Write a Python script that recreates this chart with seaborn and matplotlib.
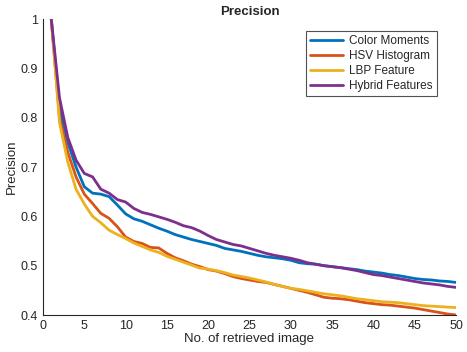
import numpy as np
import pandas as pd
import seaborn as sns
import matplotlib.pyplot as plt

# precision at k for each feature type, k = 1..50
k = list(range(1, 51))

color_moments = [1.0, 0.82, 0.75, 0.70, 0.66, 0.647, 0.645, 0.640, 0.623, 0.605,
                 0.595, 0.590, 0.583, 0.576, 0.570, 0.563, 0.558, 0.553, 0.549, 0.545,
                 0.541, 0.535, 0.532, 0.529, 0.525, 0.521, 0.518, 0.516, 0.514, 0.511,
                 0.506, 0.504, 0.503, 0.500, 0.498, 0.496, 0.494, 0.492, 0.489, 0.487,
                 0.485, 0.482, 0.480, 0.477, 0.474, 0.472, 0.471, 0.469, 0.468, 0.466]

hsv_histogram = [1.0, 0.80, 0.73, 0.68, 0.645, 0.626, 0.606, 0.596, 0.579, 0.558,
                 0.549, 0.545, 0.537, 0.536, 0.525, 0.516, 0.510, 0.503, 0.498, 0.492,
                 0.489, 0.484, 0.478, 0.474, 0.471, 0.468, 0.466, 0.462, 0.458, 0.454,
                 0.450, 0.446, 0.441, 0.436, 0.434, 0.433, 0.431, 0.428, 0.425, 0.423,
                 0.421, 0.420, 0.418, 0.416, 0.414, 0.411, 0.408, 0.405, 0.402, 0.400]

lbp_feature = [1.0, 0.79, 0.71, 0.655, 0.625, 0.600, 0.587, 0.572, 0.563, 0.555,
               0.546, 0.539, 0.532, 0.527, 0.519, 0.513, 0.507, 0.501, 0.495, 0.493,
               0.490, 0.486, 0.481, 0.478, 0.475, 0.471, 0.467, 0.462, 0.458, 0.454,
               0.452, 0.449, 0.446, 0.443, 0.441, 0.439, 0.436, 0.433, 0.431, 0.429,
               0.427, 0.426, 0.425, 0.423, 0.421, 0.419, 0.418, 0.417, 0.416, 0.415]

hybrid = [1.0, 0.84, 0.76, 0.714, 0.687, 0.680, 0.655, 0.647, 0.634, 0.629,
          0.616, 0.608, 0.604, 0.599, 0.594, 0.588, 0.581, 0.577, 0.570, 0.561,
          0.553, 0.548, 0.543, 0.540, 0.535, 0.530, 0.525, 0.521, 0.518, 0.515,
          0.511, 0.506, 0.503, 0.500, 0.498, 0.496, 0.493, 0.490, 0.486, 0.482,
          0.480, 0.477, 0.474, 0.471, 0.468, 0.465, 0.463, 0.461, 0.458, 0.456]

names = ['Color Moments', 'HSV Histogram', 'LBP Feature', 'Hybrid Features']
colors = ['#0072BD', '#D95319', '#EDB120', '#7E2F8E']

df = pd.DataFrame({'k': k, names[0]: color_moments, names[1]: hsv_histogram,
                   names[2]: lbp_feature, names[3]: hybrid})
long_df = df.melt(id_vars='k', var_name='Method', value_name='Precision')

sns.set_style('white')
plt.rcParams['font.family'] = ['Liberation Sans', 'DejaVu Sans']

fig = plt.figure(figsize=(4.67, 3.52), dpi=100)
ax = fig.add_axes([43 / 467, 1 - 315 / 352, 413 / 467, 296 / 352])

sns.lineplot(data=long_df, x='k', y='Precision', hue='Method', hue_order=names,
             palette=colors, linewidth=2, ax=ax)

ax.set_xlim(0, 50)
ax.set_ylim(0.4, 1)
ax.set_xticks(range(0, 51, 5))
ax.set_yticks(np.arange(0.4, 1.01, 0.1))
ax.set_yticklabels(['0.4', '0.5', '0.6', '0.7', '0.8', '0.9', '1'])
ax.tick_params(direction='in', length=3, labelsize=9, colors='#262626')
ax.set_xlabel('No. of retrieved image', fontsize=9.5, color='#262626', labelpad=1)
ax.set_ylabel('Precision', fontsize=9.5, color='#262626', labelpad=2)
ax.set_title('Precision', fontsize=9.5, fontweight='bold', pad=3)

for s in ['top', 'right']:
    ax.spines[s].set_visible(False)
for s in ['left', 'bottom']:
    ax.spines[s].set_color('#262626')
    ax.spines[s].set_linewidth(0.8)

leg = ax.legend(loc='upper right', bbox_to_anchor=(0.954, 0.96), borderaxespad=0,
                fontsize=8.5, frameon=True, fancybox=False, edgecolor='#262626',
                handlelength=2.8, borderpad=0.35, labelspacing=0.25, handletextpad=0.5)
leg.get_frame().set_linewidth(0.8)

plt.savefig('out.png', dpi=100)
